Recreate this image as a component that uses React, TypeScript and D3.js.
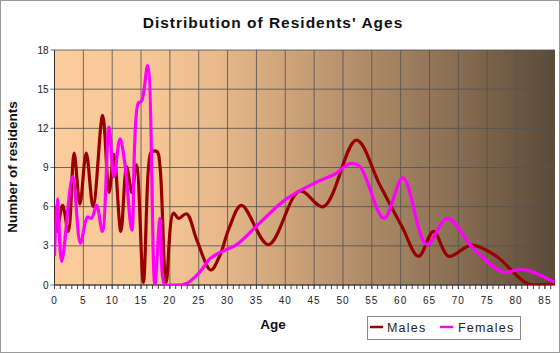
import React from "react";
import * as d3 from "d3";

const W = 560, H = 353;
const title = "Distribution of Residents' Ages";
const yTicks = [0, 3, 6, 9, 12, 15, 18];
const xTicks = [0, 5, 10, 15, 20, 25, 30, 35, 40, 45, 50, 55, 60, 65, 70, 75, 80, 85];

const malesAge = [0, 0.4, 1.4, 2.4, 3.4, 4.4, 5.5, 6.7, 8.35, 9.45, 10.3, 11.5, 12.5, 13.4, 14.2, 15.4, 16.3, 16.8, 17.8, 18.3, 19.35, 20.6, 21.5, 22.9, 24.7, 27.1, 28.7, 30.3, 32.4, 37.1, 42.5, 46.6, 52.3, 56.4, 60.2, 63.1, 65.7, 68.3, 72.3, 76.6, 79.5, 82.1, 86.7];
const malesVal = [6.0, 4.1, 6.1, 4.1, 10.1, 6.2, 10.1, 6.0, 13.0, 7.1, 10.0, 4.1, 9.05, 7.1, 9.2, 0.2, 9.0, 10.2, 10.2, 9.0, 0.2, 5.5, 5.1, 5.45, 3.4, 1.15, 2.3, 4.4, 6.1, 3.1, 7.2, 6.0, 11.1, 7.65, 4.5, 2.2, 4.1, 2.2, 3.06, 2.2, 1.0, 0.1, 0.1];

const femAge = [0, 0.5, 1.25, 3.15, 4.5, 5.7, 6.4, 7.3, 8.3, 9.45, 10.3, 11.35, 12.2, 13.4, 14.5, 15.1, 16.15, 17.4, 18.3, 19.15, 20.2, 22.8, 25.2, 26.9, 28.7, 31.6, 35, 40.2, 46, 48.6, 51.2, 52.9, 57.1, 60.4, 64.5, 68.1, 72.6, 77.8, 81.2, 86.7];
const femVal = [2.2, 6.6, 1.8, 8.3, 3.2, 5.2, 5.1, 6.1, 4.1, 12.1, 8.3, 11.2, 9.3, 4.2, 13.9, 14.1, 16.8, 0, 5.1, 0, 0, 0.1, 1.0, 2.0, 2.5, 3.1, 4.5, 6.6, 8.0, 8.5, 9.3, 9.1, 5.1, 8.2, 3.1, 5.1, 2.8, 1.0, 1.2, 0.2];

const series = [
  { name: "Males", ages: malesAge, vals: malesVal, color: "#990000" },
  { name: "Females", ages: femAge, vals: femVal, color: "#ff00ff" },
];

export default function App() {
  const left = 54.5, right = 555, top = 50, bottom = 285;
  const x = d3.scaleLinear().domain([0, 86.75]).range([left, right]);
  const y = d3.scaleLinear().domain([0, 18]).range([bottom, top]);
  const line = d3
    .line<[number, number]>()
    .x((d) => x(d[0]))
    .y((d) => y(d[1]))
    .curve(d3.curveCatmullRom.alpha(0.5));
  const minor = d3.range(0, 87, 1);
  const font = "Liberation Sans, Arial, sans-serif";
  return (
    <svg width={W} height={H} style={{ position: "absolute", left: 0, top: 0 }} fontFamily={font}>
      <defs>
        <linearGradient id="bg" x1="0" x2="1" y1="0" y2="0">
          <stop offset="0%" stopColor="#fccc9c" />
          <stop offset="20%" stopColor="#f6c795" />
          <stop offset="32%" stopColor="#e8ba8c" />
          <stop offset="49%" stopColor="#c9a077" />
          <stop offset="79%" stopColor="#8b7054" />
          <stop offset="100%" stopColor="#5c4a39" />
        </linearGradient>
        <clipPath id="clip">
          <rect x={left} y={top - 5} width={right - left} height={bottom - top + 5} />
        </clipPath>
      </defs>
      <rect x={0.5} y={0.5} width={W - 1} height={H - 1} fill="#ffffff" stroke="#999" />
      <text x={273} y={28} textAnchor="middle" fontSize={15.5} fontWeight="bold" letterSpacing={1} fill="#111">
        {title}
      </text>
      <rect x={left} y={top} width={right - left} height={bottom - top} fill="url(#bg)" />
      {yTicks.map((t) => (
        <g key={"y" + t}>
          <line x1={left - 4} x2={right} y1={y(t)} y2={y(t)} stroke="#555" strokeOpacity={0.85} />
          <text x={left - 6} y={y(t) + 3.5} textAnchor="end" fontSize={10} fill="#222">
            {t}
          </text>
        </g>
      ))}
      {xTicks.map((t) => (
        <g key={"x" + t}>
          <line x1={x(t)} x2={x(t)} y1={top} y2={bottom + 4} stroke="#555" strokeOpacity={0.85} />
          <text x={x(t)} y={304} textAnchor="middle" fontSize={10} letterSpacing={1} fill="#222">
            {t}
          </text>
        </g>
      ))}
      {minor.map((t) => (
        <line key={"m" + t} x1={x(t)} x2={x(t)} y1={bottom} y2={bottom + 4} stroke="#444" />
      ))}
      <line x1={left} x2={right} y1={bottom} y2={bottom} stroke="#333" />
      <line x1={left} x2={left} y1={top} y2={bottom} stroke="#333" />
      <g clipPath="url(#clip)">
        {series.map((s) => (
          <path
            key={s.name}
            d={line(s.ages.map((a, i) => [a, s.vals[i]] as [number, number])) || ""}
            fill="none"
            stroke={s.color}
            strokeWidth={3.2}
            strokeLinejoin="round"
          />
        ))}
      </g>
      <text
        transform={`translate(17,167) rotate(-90)`}
        textAnchor="middle"
        fontSize={13.5}
        fontWeight="bold"
        fill="#111"
      >
        Number of residents
      </text>
      <text x={273} y={329} textAnchor="middle" fontSize={13.5} fontWeight="bold" fill="#111">
        Age
      </text>
      <rect x={367.5} y={316.5} width={153} height={23} fill="none" stroke="#888" />
      <line x1={370} x2={383} y1={327} y2={327} stroke="#990000" strokeWidth={2.5} />
      <text x={387} y={332} fontSize={12.5} letterSpacing={1.2} fill="#222">Males</text>
      <line x1={440} x2={453} y1={327} y2={327} stroke="#ff00ff" strokeWidth={2.5} />
      <text x={458} y={332} fontSize={12.5} letterSpacing={1.2} fill="#222">Females</text>
    </svg>
  );
}
